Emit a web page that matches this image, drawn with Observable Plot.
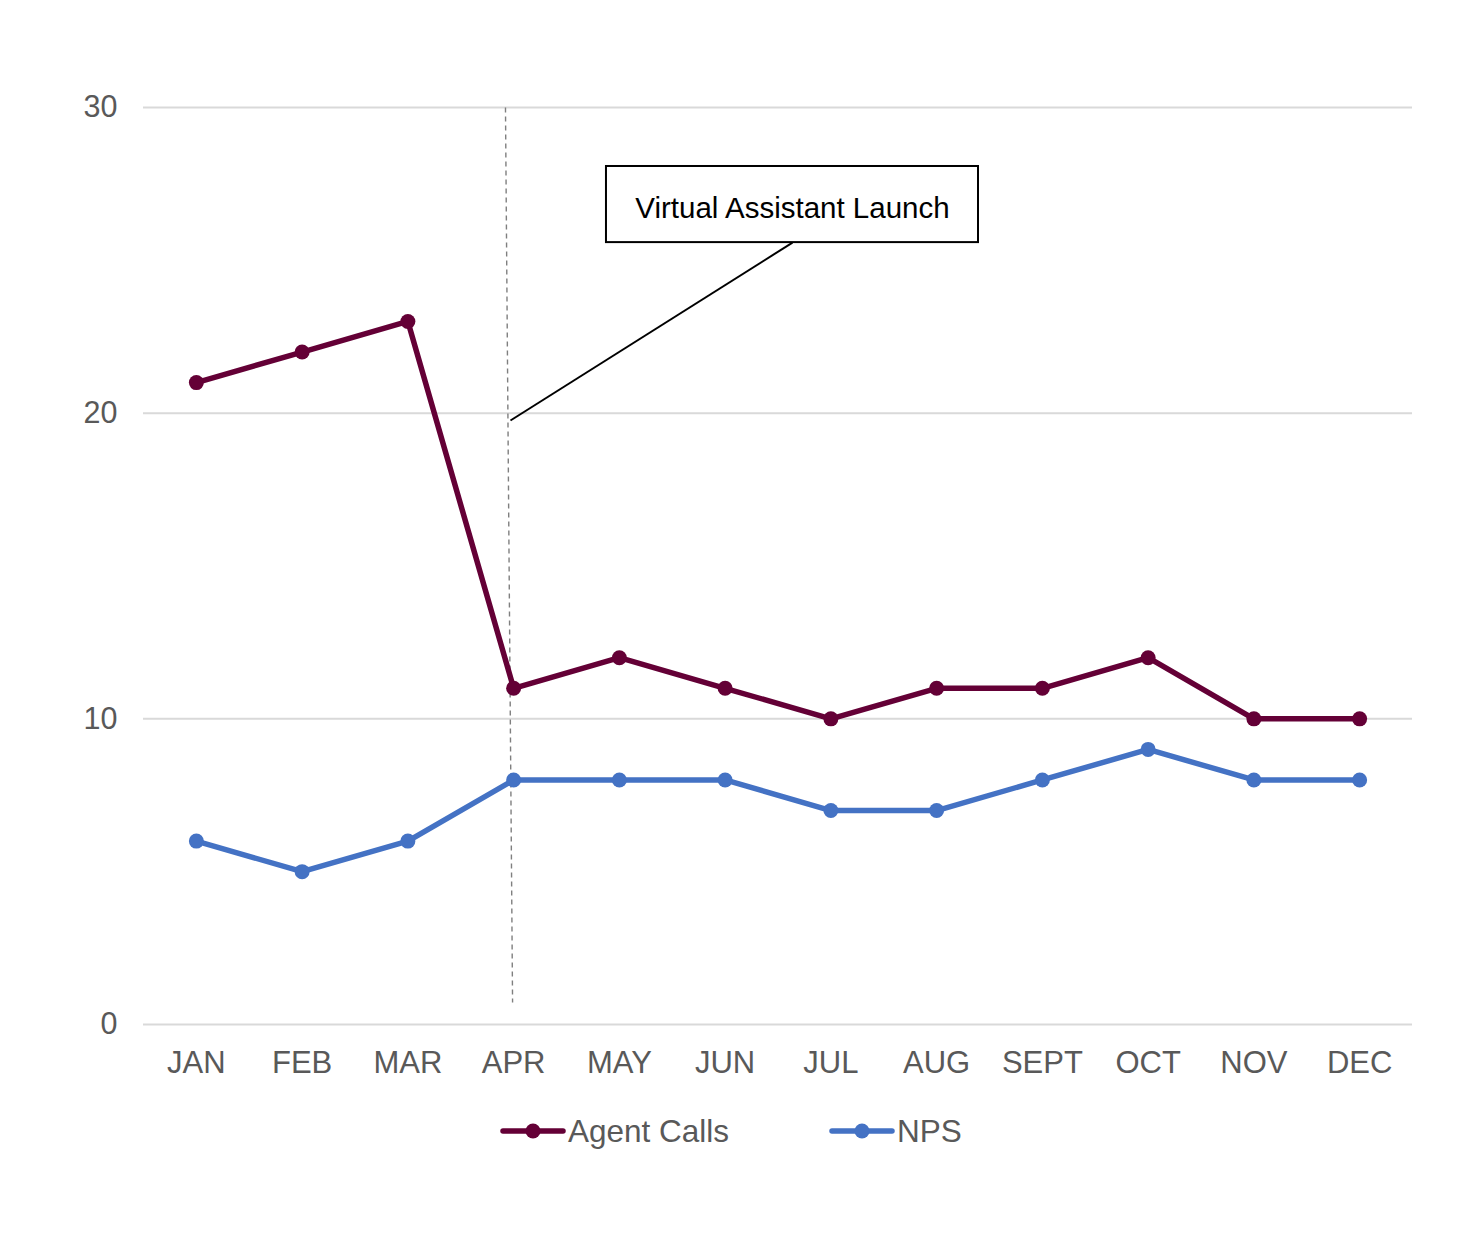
<!DOCTYPE html>
<html>
<head>
<meta charset="utf-8">
<script src="https://cdn.jsdelivr.net/npm/d3@7"></script>
<script src="https://cdn.jsdelivr.net/npm/@observablehq/plot@0.6"></script>
<style>
  body { margin: 0; background: #fff; font-family: "Liberation Sans", Arial, sans-serif; }
  #legend { display: flex; justify-content: flex-start; align-items: center; height: 40px; margin-top: 11px; padding-left: 500px; }
  .item { display: flex; align-items: center; font-size: 31.5px; color: #595959; }
  .item svg { margin-right: 2px; }
</style>
</head>
<body>
<div id="chart"></div>
<div id="legend"></div>
<script>
const months = ["JAN","FEB","MAR","APR","MAY","JUN","JUL","AUG","SEPT","OCT","NOV","DEC"];
const agentCalls = [21,22,23,11,12,11,10,11,11,12,10,10];
const nps = [6,5,6,8,8,8,7,7,8,9,8,8];
const yTicks = [0,10,20,30];
const seriesNames = ["Agent Calls","NPS"];
const seriesColors = ["#640036","#4472C4"];
const annotationText = "Virtual Assistant Launch";
// annotation placement in data units (month index, value)
const launchLine = [{x1: 2.923, y1: 30, x2: 2.99, y2: 0.72}];
const calloutBox = [{x1: 3.878, x2: 7.396, y1: 25.58, y2: 28.07}];
const calloutLeader = [{x1: 5.637, y1: 25.58, x2: 2.97, y2: 19.76}];
const calloutLabel = [{x: 5.637, y: 26.7}];

const data = [];
months.forEach((m, i) => {
  data.push({i, month: m, series: seriesNames[0], value: agentCalls[i]});
  data.push({i, month: m, series: seriesNames[1], value: nps[i]});
});

const chart = Plot.plot({
  width: 1482,
  height: 1100,
  marginTop: 107,
  marginBottom: 76,
  marginLeft: 143,
  marginRight: 70,
  style: {fontFamily: '"Liberation Sans", Arial, sans-serif', background: "#fff"},
  x: {domain: [-0.5, 11.5]},
  y: {domain: [0, 30]},
  color: {domain: seriesNames, range: seriesColors},
  marks: [
    Plot.ruleY(yTicks, {stroke: "#d9d9d9", strokeWidth: 2}),
    Plot.axisY({ticks: yTicks, tickSize: 0, tickPadding: 26, fontSize: 30.5, color: "#595959", label: null}),
    Plot.axisX({ticks: d3.range(months.length), tickFormat: i => months[i], tickSize: 0, tickPadding: 26, fontSize: 31, color: "#595959", label: null}),
    Plot.link(launchLine, {x1: "x1", y1: "y1", x2: "x2", y2: "y2", stroke: "#7f7f7f", strokeWidth: 1.4, strokeDasharray: "5,4"}),
    Plot.line(data, {x: "i", y: "value", z: "series", stroke: "series", strokeWidth: 5.5, strokeLinejoin: "round"}),
    Plot.dot(data, {x: "i", y: "value", fill: "series", r: 7.5, stroke: null}),
    Plot.link(calloutLeader, {x1: "x1", y1: "y1", x2: "x2", y2: "y2", stroke: "#000", strokeWidth: 2}),
    Plot.rect(calloutBox, {x1: "x1", x2: "x2", y1: "y1", y2: "y2", fill: "#fff", stroke: "#000", strokeWidth: 2}),
    Plot.text(calloutLabel, {x: "x", y: "y", text: () => annotationText, fontSize: 29.5, fill: "#000"})
  ]
});
document.getElementById("chart").appendChild(chart);

const legend = document.getElementById("legend");
seriesNames.forEach((name, k) => {
  const item = document.createElement("div");
  item.className = "item";
  if (k > 0) item.style.marginLeft = "100px";
  const s = d3.create("svg").attr("width", 66).attr("height", 20);
  s.append("line").attr("x1", 3).attr("x2", 63).attr("y1", 10).attr("y2", 10)
    .attr("stroke", seriesColors[k]).attr("stroke-width", 5.5).attr("stroke-linecap", "round");
  s.append("circle").attr("cx", 33).attr("cy", 10).attr("r", 7.5).attr("fill", seriesColors[k]);
  item.appendChild(s.node());
  const t = document.createElement("span");
  t.textContent = name;
  item.appendChild(t);
  legend.appendChild(item);
});
</script>
</body>
</html>
